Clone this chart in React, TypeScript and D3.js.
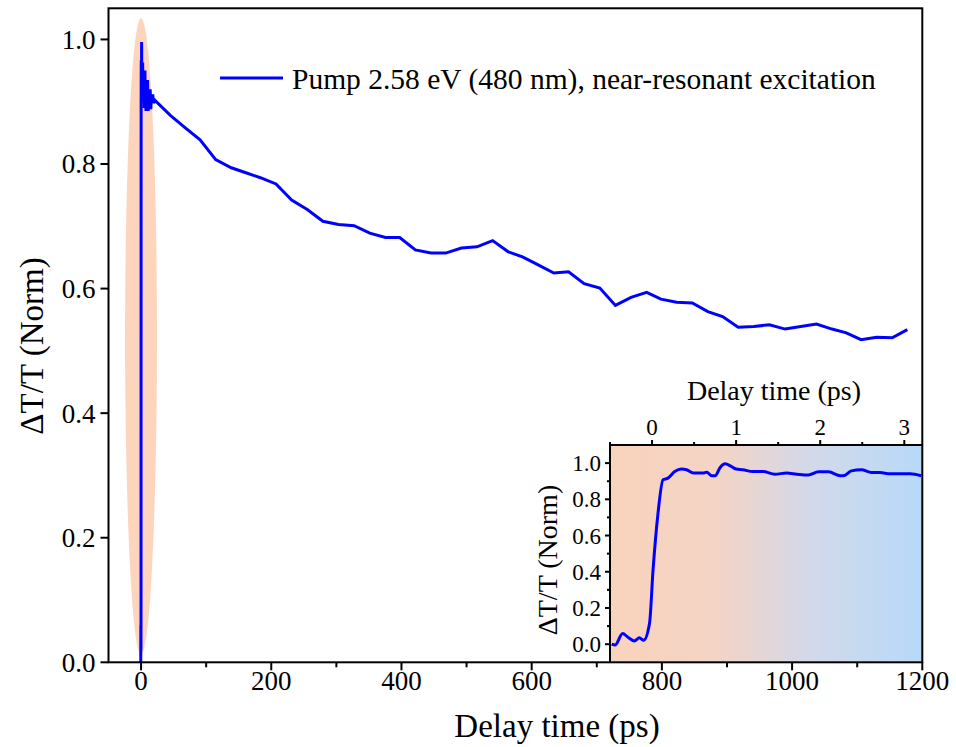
import React from "react";
import * as d3 from "d3";

// ---- data ----
const insetTime = [-0.48, -0.44, -0.35, -0.29, -0.21, -0.15, -0.1, -0.03, 0.012, 0.071, 0.131, 0.19, 0.27, 0.35, 0.41, 0.49, 0.61, 0.65, 0.71, 0.75, 0.81, 0.87, 0.93, 1.0, 1.08, 1.2, 1.32, 1.46, 1.6, 1.72, 1.86, 1.98, 2.1, 2.24, 2.29, 2.37, 2.49, 2.61, 2.71, 2.83, 2.95, 3.07, 3.2];
const insetValue = [0.0, -0.005, 0.059, 0.04, 0.018, 0.035, 0.022, 0.115, 0.41, 0.723, 0.908, 0.917, 0.953, 0.967, 0.963, 0.945, 0.945, 0.95, 0.93, 0.93, 0.976, 0.996, 0.985, 0.967, 0.963, 0.953, 0.953, 0.939, 0.945, 0.939, 0.934, 0.952, 0.952, 0.93, 0.932, 0.957, 0.963, 0.948, 0.948, 0.941, 0.941, 0.941, 0.93];
const earlyTime = [3.5, 4, 4.5, 5, 5.5, 6, 6.5, 7, 7.5, 8, 9, 10, 11, 12, 13, 14, 15, 16, 17, 18, 19, 20, 21, 22.6];
const earlyValue = [0.95, 0.9, 0.94, 0.89, 0.93, 0.95, 0.89, 0.92, 0.885, 0.93, 0.9, 0.935, 0.885, 0.915, 0.89, 0.92, 0.888, 0.91, 0.9, 0.912, 0.898, 0.905, 0.9, 0.901];
const longTime = [45, 68, 90.7, 114.6, 138.6, 161, 183.3, 207.3, 231.3, 255.3, 279.3, 303.3, 327.3, 351.3, 375.4, 397.3, 421.3, 445.3, 467.9, 492, 516, 540, 564, 585.9, 610, 634, 656.6, 680.6, 704.7, 728.6, 752.6, 776.6, 798.6, 822.6, 846.7, 870.6, 893.2, 917.2, 941.3, 965.3, 989.3, 1013.3, 1037.4, 1061.3, 1083.3, 1105.9, 1129.9, 1153.8, 1177];
const longValue = [0.878, 0.858, 0.839, 0.807, 0.794, 0.786, 0.778, 0.768, 0.742, 0.727, 0.708, 0.703, 0.701, 0.689, 0.682, 0.682, 0.662, 0.657, 0.657, 0.665, 0.667, 0.677, 0.659, 0.651, 0.638, 0.625, 0.627, 0.608, 0.601, 0.573, 0.586, 0.594, 0.583, 0.578, 0.577, 0.563, 0.555, 0.538, 0.539, 0.542, 0.535, 0.539, 0.543, 0.535, 0.529, 0.518, 0.522, 0.521, 0.534];

const mainXTicks = [0, 200, 400, 600, 800, 1000, 1200];
const mainXMinor = [100, 300, 500, 700, 900, 1100];
const mainYTicks = [0, 0.2, 0.4, 0.6, 0.8, 1.0];
const insetXTicks = [0, 1, 2, 3];
const insetXMinor = [-0.5, 0.5, 1.5, 2.5];
const insetYTicks = [0, 0.2, 0.4, 0.6, 0.8, 1.0];
const insetYMinor = [0.1, 0.3, 0.5, 0.7, 0.9];

const legendLabel = "Pump 2.58 eV (480 nm), near-resonant excitation";
const xTitle = "Delay time (ps)";
const yTitle = "ΔT/T (Norm)";

// highlight ellipse (data units)
const ellipseCenter = [0, 0.523];
const ellipseHalf = [24.5, 0.511];

const W = 956, H = 747;
const FONT = "'Liberation Serif', 'Times New Roman', serif";
const BLUE = "#0000ff";

export default function App() {
  const series = [
    ...insetTime.map((t, i) => [t, insetValue[i]]),
    ...earlyTime.map((t, i) => [t, earlyValue[i]]),
    ...longTime.map((t, i) => [t, longValue[i]]),
  ] as [number, number][];
  const insetSeries = insetTime.map((t, i) => [t, insetValue[i]]) as [number, number][];

  const M = { left: 108.5, right: 922.3, top: 8.3, bottom: 662.3 };
  const x = d3.scaleLinear().domain([-50, 1200]).range([M.left, M.right]);
  const y = d3.scaleLinear().domain([0, 1.05]).range([M.bottom, M.top]);

  const I = { left: 610, right: 922.3, top: 445, bottom: 662.3 };
  const ix = d3.scaleLinear().domain([-0.5, 3.214]).range([I.left, I.right]);
  const iy = d3.scaleLinear().domain([-0.1, 1.1]).range([I.bottom, I.top]);

  const mainLine = d3.line<[number, number]>().x((d) => x(d[0])).y((d) => y(d[1]));
  const insetLine = d3.line<[number, number]>().x((d) => ix(d[0])).y((d) => iy(d[1])).curve(d3.curveMonotoneX);
  const fmt = d3.format(".1f");

  return (
    <div style={{ position: "absolute", left: 0, top: 0 }}>
      <svg width={W} height={H} style={{ display: "block", fontFamily: FONT }}>
        <defs>
          <clipPath id="mainClip">
            <rect x={M.left} y={M.top} width={M.right - M.left} height={M.bottom - M.top} />
          </clipPath>
          <clipPath id="insetClip">
            <rect x={I.left} y={I.top} width={I.right - I.left} height={I.bottom - I.top} />
          </clipPath>
          <linearGradient id="insetGrad" x1="0" x2="1" y1="0" y2="0">
            <stop offset="0%" stopColor="#f9d3bc" />
            <stop offset="35%" stopColor="#f3d4c6" />
            <stop offset="65%" stopColor="#d2d9ea" />
            <stop offset="100%" stopColor="#b7d9f9" />
          </linearGradient>
        </defs>
        <rect x={0} y={0} width={W} height={H} fill="#fff" />

        {/* highlight ellipse */}
        <g clipPath="url(#mainClip)">
          <ellipse
            cx={x(ellipseCenter[0])}
            cy={y(ellipseCenter[1])}
            rx={x(ellipseHalf[0]) - x(0)}
            ry={y(0) - y(ellipseHalf[1])}
            fill="#fdd5bd"
          />
          <path d={mainLine(series) || ""} fill="none" stroke={BLUE} strokeWidth={3} strokeLinejoin="miter" />
        </g>

        {/* legend */}
        <line x1={220} x2={283} y1={78} y2={78} stroke={BLUE} strokeWidth={3} />
        <text x={292} y={89} fontSize={29.5} fill="#000">{legendLabel}</text>

        {/* main axes ticks */}
        {mainXTicks.map((t) => (
          <g key={"mx" + t}>
            <line x1={x(t)} x2={x(t)} y1={M.bottom} y2={M.bottom + 8} stroke="#000" strokeWidth={2} />
            <text x={x(t)} y={M.bottom + 28} fontSize={27} textAnchor="middle">{t}</text>
          </g>
        ))}
        {mainXMinor.map((t) => (
          <line key={"mxm" + t} x1={x(t)} x2={x(t)} y1={M.bottom} y2={M.bottom + 5} stroke="#000" strokeWidth={2} />
        ))}
        {mainYTicks.map((v) => (
          <g key={"my" + v}>
            <line x1={M.left - 8} x2={M.left} y1={y(v)} y2={y(v)} stroke="#000" strokeWidth={2} />
            <text x={M.left - 13} y={y(v)} dy="0.35em" fontSize={27} textAnchor="end">{fmt(v)}</text>
          </g>
        ))}
        <text x={557} y={737} fontSize={33} textAnchor="middle">{xTitle}</text>
        <text transform={`translate(43,${346}) rotate(-90)`} fontSize={33} textAnchor="middle">{yTitle}</text>

        {/* inset */}
        <rect x={I.left} y={I.top} width={I.right - I.left} height={I.bottom - I.top} fill="url(#insetGrad)" />
        <g clipPath="url(#insetClip)">
          <path d={insetLine(insetSeries) || ""} fill="none" stroke={BLUE} strokeWidth={3} />
        </g>
        <line x1={I.left} x2={I.right} y1={I.top} y2={I.top} stroke="#000" strokeWidth={2} />
        <line x1={I.left} x2={I.left} y1={I.top} y2={I.bottom} stroke="#000" strokeWidth={2} />
        {insetXTicks.map((t) => (
          <g key={"ix" + t}>
            <line x1={ix(t)} x2={ix(t)} y1={I.top} y2={I.top - 5} stroke="#000" strokeWidth={2} />
            <text x={ix(t)} y={I.top - 10} fontSize={23} textAnchor="middle">{t}</text>
          </g>
        ))}
        {insetXMinor.map((t) => (
          <line key={"ixm" + t} x1={ix(t)} x2={ix(t)} y1={I.top} y2={I.top - 3} stroke="#000" strokeWidth={2} />
        ))}
        {insetYTicks.map((v) => (
          <g key={"iy" + v}>
            <line x1={I.left - 5} x2={I.left} y1={iy(v)} y2={iy(v)} stroke="#000" strokeWidth={2} />
            <text x={I.left - 9} y={iy(v)} dy="0.35em" fontSize={23} textAnchor="end">{fmt(v)}</text>
          </g>
        ))}
        {insetYMinor.map((v) => (
          <line key={"iym" + v} x1={I.left - 3} x2={I.left} y1={iy(v)} y2={iy(v)} stroke="#000" strokeWidth={2} />
        ))}
        <text x={774} y={400} fontSize={28} textAnchor="middle">{xTitle}</text>
        <text transform={`translate(557,560) rotate(-90)`} fontSize={28} textAnchor="middle">{yTitle}</text>

        {/* main frame */}
        <rect x={M.left} y={M.top} width={M.right - M.left} height={M.bottom - M.top} fill="none" stroke="#000" strokeWidth={2} />
      </svg>
    </div>
  );
}
